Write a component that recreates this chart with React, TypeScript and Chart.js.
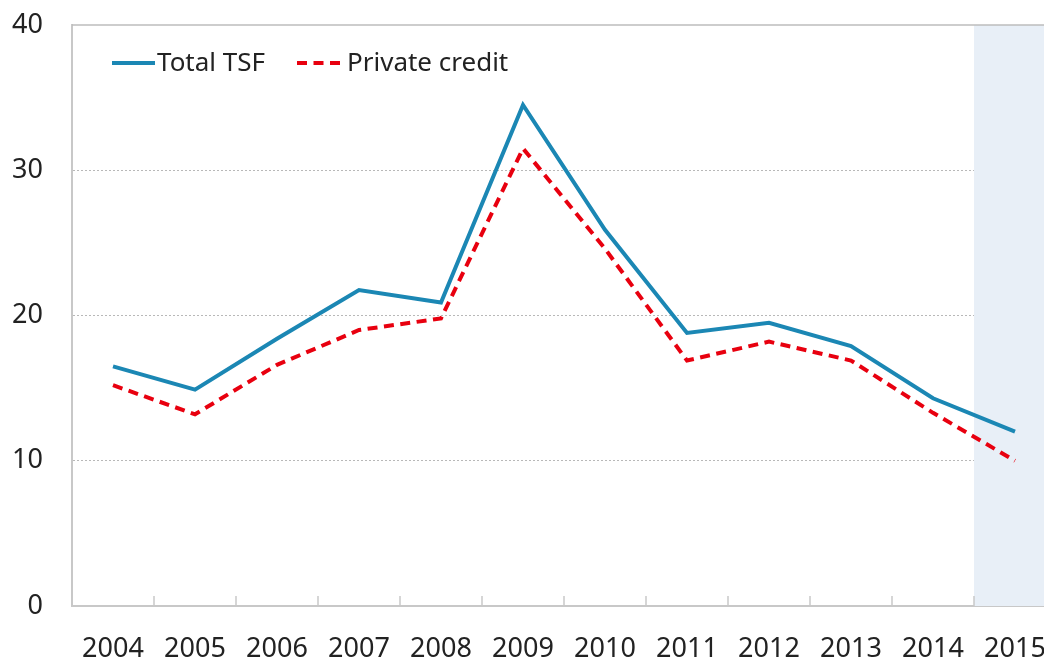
import React, { useEffect, useRef } from "react";
import { Chart, registerables } from "chart.js";

Chart.register(...registerables);

const years = ["2004", "2005", "2006", "2007", "2008", "2009", "2010", "2011", "2012", "2013", "2014", "2015"];
const totalTSF = [16.5, 14.9, 18.4, 21.75, 20.9, 34.5, 25.9, 18.8, 19.5, 17.9, 14.3, 12.0];
const privateCredit = [15.2, 13.2, 16.6, 19.0, 19.8, 31.5, 24.6, 16.9, 18.2, 16.9, 13.3, 10.0];
const yTicks = [0, 10, 20, 30, 40];
const shadedFrom = "2015";

const FONT = "'Noto Sans', sans-serif";
const BLUE = "#1B87B4";
const RED = "#E8000F";

const decorPlugin = {
  id: "decor",
  beforeDatasetsDraw(chart: any) {
    const { ctx, chartArea, scales } = chart;
    const x = scales.x;
    const idx = years.indexOf(shadedFrom);
    const left = (x.getPixelForValue(idx - 1) + x.getPixelForValue(idx)) / 2;
    ctx.save();
    ctx.fillStyle = "#E8EFF7";
    ctx.fillRect(left, chartArea.top, chartArea.right - left, chartArea.bottom - chartArea.top);
    ctx.strokeStyle = "#BDBDBD";
    ctx.lineWidth = 1.5;
    ctx.beginPath();
    ctx.moveTo(chartArea.left, chartArea.top);
    ctx.lineTo(chartArea.right, chartArea.top);
    ctx.stroke();
    ctx.strokeStyle = "#C8C8C8";
    ctx.lineWidth = 1.5;
    for (let i = 1; i < years.length; i++) {
      const px = (x.getPixelForValue(i - 1) + x.getPixelForValue(i)) / 2;
      ctx.beginPath();
      ctx.moveTo(px, chartArea.bottom);
      ctx.lineTo(px, chartArea.bottom - 10);
      ctx.stroke();
    }
    ctx.restore();
  },
  afterDraw(chart: any) {
    const { ctx } = chart;
    ctx.save();
    const y = 63;
    ctx.lineWidth = 4;
    ctx.strokeStyle = BLUE;
    ctx.beginPath();
    ctx.moveTo(112, y);
    ctx.lineTo(155, y);
    ctx.stroke();
    ctx.font = `26px ${FONT}`;
    ctx.fillStyle = "#222";
    ctx.textBaseline = "middle";
    ctx.fillText("Total TSF", 157, y + 1);
    ctx.strokeStyle = RED;
    ctx.setLineDash([10, 6.5]);
    ctx.beginPath();
    ctx.moveTo(297, y);
    ctx.lineTo(345, y);
    ctx.stroke();
    ctx.setLineDash([]);
    ctx.fillText("Private credit", 347, y + 1);
    ctx.restore();
  },
};

export default function App() {
  const ref = useRef<HTMLCanvasElement>(null);
  useEffect(() => {
    document.body.style.margin = "0";
    document.body.style.overflow = "hidden";
    const chart = new Chart(ref.current!, {
      type: "line",
      data: {
        labels: years,
        datasets: [
          {
            label: "Total TSF",
            data: totalTSF,
            borderColor: BLUE,
            borderWidth: 4,
            pointRadius: 0,
            tension: 0,
            fill: false,
          },
          {
            label: "Private credit",
            data: privateCredit,
            borderColor: RED,
            borderWidth: 4,
            borderDash: [10, 6.5],
            pointRadius: 0,
            tension: 0,
            fill: false,
          },
        ],
      },
      options: {
        responsive: false,
        animation: false,
        layout: { padding: { top: 25, right: 4, left: 0, bottom: 0 } },
        plugins: { legend: { display: false }, tooltip: { enabled: false } },
        scales: {
          x: {
            offset: true,
            grid: { display: false, drawTicks: false },
            border: { display: true, color: "#C8C8C8", width: 2 },
            ticks: { color: "#222", font: { family: FONT, size: 27 }, padding: 27, maxRotation: 0, autoSkip: false },
            afterFit: (s: any) => { s.height = 57; s.paddingLeft = 0; s.paddingRight = 0; },
          },
          y: {
            min: 0,
            max: 40,
            afterBuildTicks: (s: any) => { s.ticks = yTicks.map((v) => ({ value: v })); },
            grid: { color: (c: any) => (c.tick && c.tick.value > 0 && c.tick.value < 40 ? "#B8B8B8" : "rgba(0,0,0,0)"), lineWidth: 1, drawTicks: false },
            border: { display: true, color: "#C8C8C8", width: 2, dash: [2, 2] },
            ticks: { color: "#222", font: { family: FONT, size: 27 }, padding: 29 },
            afterFit: (s: any) => { s.width = 72; s.paddingTop = 0; s.paddingBottom = 0; },
          },
        },
      },
      plugins: [decorPlugin],
    });
    return () => chart.destroy();
  }, []);
  return (
    <div style={{ width: 1044, height: 663, overflow: "hidden" }}>
      <canvas ref={ref} width={1060} height={663} />
    </div>
  );
}
